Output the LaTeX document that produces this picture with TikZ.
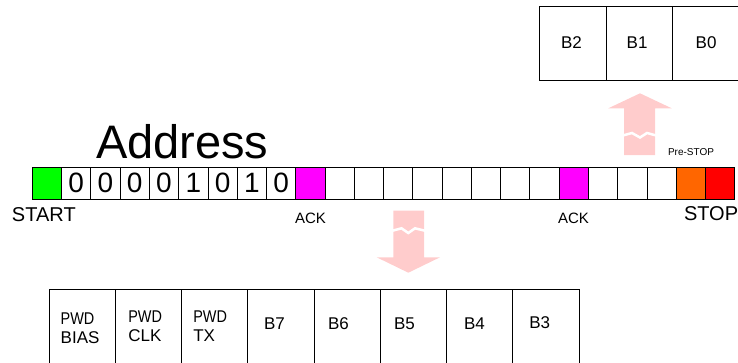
\documentclass[tikz,border=0pt]{standalone}
\usepackage{fontspec}
\usepackage{graphicx}
\setmainfont{Liberation Sans}
\definecolor{startgreen}{RGB}{0,255,0}
\definecolor{ackmag}{RGB}{255,0,255}
\definecolor{prestop}{RGB}{255,102,0}
\definecolor{stopred}{RGB}{255,0,0}
\definecolor{arrowpink}{RGB}{255,204,204}
\begin{document}
\begin{tikzpicture}[x=1pt,y=-1pt,
  cell/.style={draw,line width=0.8pt,minimum width=29.27pt,minimum height=32pt,inner sep=0pt,outer sep=0pt,font=\fontsize{28}{30}\selectfont},
  regbox/.style={draw,line width=0.8pt,minimum width=66.25pt,minimum height=92pt,inner sep=0pt,outer sep=0pt},
  topbox/.style={draw,line width=0.8pt,minimum width=66.7pt,minimum height=74pt,inner sep=0pt,outer sep=0pt},
  lbl/.style={inner sep=0pt,outer sep=0pt,anchor=west,align=left,font=\fontsize{17}{19}\selectfont},
  biglbl/.style={inner sep=0pt,outer sep=0pt,anchor=base west,font=\fontsize{20}{22}\selectfont},
  acklbl/.style={inner sep=0pt,outer sep=0pt,anchor=base west,font=\fontsize{15}{17}\selectfont},
  bigarrow/.style={fill=arrowpink,draw=none},
  breakline/.style={draw=white,line width=2.5pt}
]
\useasboundingbox (0,0) rectangle (738,362);

% Address title
\node[inner sep=0pt,outer sep=0pt,anchor=base west] (title) at (96,158)
  {\fontsize{47}{50}\selectfont Address};

% bit cells
\foreach \i/\t/\c in {0//startgreen,1/0/white,2/0/white,3/0/white,4/0/white,5/1/white,6/0/white,7/1/white,8/0/white,
  9//ackmag,10//white,11//white,12//white,13//white,14//white,15//white,16//white,17//white,
  18//ackmag,19//white,20//white,21//white,22//prestop,23//stopred}{
  \node[cell,fill=\c] (c\i) at ({32.3+29.27*(\i+0.5)},183) {\t};
}

% labels under the bar
\node[biglbl] (start) at (12,221) {START};
\node[biglbl] (stop) at (684,220) {STOP};
\node[acklbl] (ack1) at (295,223) {ACK};
\node[acklbl] (ack2) at (558,223) {ACK};
\node[inner sep=0pt,outer sep=0pt,anchor=base west,font=\fontsize{10}{12}\selectfont] (pstop) at (668,155) {Pre-STOP};

% top register B2 B1 B0
\node[topbox] (tb2) at (572.65,43) {};
\node[topbox] (tb1) at (639.35,43) {};
\node[topbox] (tb0) at (706.05,43) {};
\node[lbl] (tl2) at (561,42.5) {B2};
\node[lbl] (tl1) at (626.7,42.5) {B1};
\node[lbl] (tl0) at (695.7,42.5) {B0};

% bottom register
\foreach \k in {0,...,7}{
  \node[regbox] (rb\k) at ({49+66.25*(\k+0.5)},335) {};
}
\node[lbl] (l0) at (60.7,328) {\scalebox{0.85}[1]{PWD}\\BIAS};
\node[lbl] (l1) at (128.3,326) {\scalebox{0.85}[1]{PWD}\\CLK};
\node[lbl] (l2) at (193.3,326) {\scalebox{0.85}[1]{PWD}\\TX};
\node[lbl] (l3) at (264,324) {B7};
\node[lbl] (l4) at (328,324) {B6};
\node[lbl] (l5) at (394,324) {B5};
\node[lbl] (l6) at (464,324) {B4};
\node[lbl] (l7) at (529.3,323) {B3};

% down arrow
\path[bigarrow] (393.3,210.7) -- (424,210.7) -- (424,257.3) -- (440,257.3) -- (408.3,272.7)
  -- (376.7,257.3) -- (393.3,257.3) -- cycle;
\draw[breakline] (392,230.8) -- (401.5,228.3) -- (408.3,233) -- (415,228.3) -- (425.3,230.8);

% up arrow
\path[bigarrow] (624,155) -- (655,155) -- (655,108.3) -- (671.7,108.3) -- (640,93.3)
  -- (608.3,108.3) -- (624,108.3) -- cycle;
\draw[breakline] (622.7,135.5) -- (632,133) -- (640,137.5) -- (647,133) -- (656.3,135.5);
\end{tikzpicture}
\end{document}
